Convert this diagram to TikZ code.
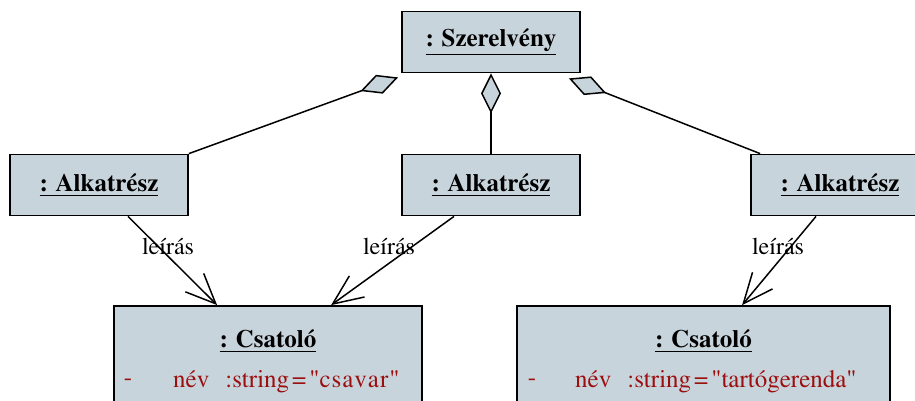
\documentclass[tikz,border=0pt]{standalone}
\usepackage[T1]{fontenc}
\usepackage{mathptmx}
\usetikzlibrary{arrows.meta,backgrounds}
\definecolor{boxfill}{RGB}{200,212,220}
\definecolor{attrred}{RGB}{155,15,15}
\tikzset{
    obj/.style={draw,line width=1.8pt,fill=boxfill,inner sep=0pt,
        minimum width=178pt,minimum height=61pt,font=\fontsize{25}{29}\selectfont\bfseries},
    cls/.style={draw,line width=1.8pt,fill=boxfill,inner sep=0pt,minimum height=130pt},
    aggr/.style={line width=1.5pt,-{Diamond[length=40pt,width=20pt,fill=boxfill,line width=1.5pt]}},
    link/.style={line width=1.5pt,-{Straight Barb[length=30pt,width=26pt,line width=1.5pt]}},
    lbl/.style={font=\fontsize{24}{28}\selectfont,inner sep=0pt},
    attr/.style={font=\fontsize{25}{29}\selectfont,text=attrred,inner sep=0pt},
}
\begin{document}
\begin{tikzpicture}[x=1pt,y=-1pt]
    \useasboundingbox (0,0) rectangle (915,400);
    %% whole and parts
    \node[obj] (sz) at (491,42) {\underline{: Szerelv\'eny}};
    \node[obj] (alk1) at (99,185) {\underline{: Alkatr\'esz}};
    \node[obj] (alk2) at (491,185) {\underline{: Alkatr\'esz}};
    \node[obj] (alk3) at (840,185) {\underline{: Alkatr\'esz}};
    %% connectors
    \node[cls,minimum width=308pt] (cs1) at (268,371) {};
    \node[lbl,font=\fontsize{25}{29}\selectfont\bfseries] (cs1t) at (268,341) {\underline{: Csatol\'o}};
    \node[attr] (cs1m) at (128,382) {-};
    \node[attr,anchor=west] (cs1a) at (173,382) {n\'ev\hspace{16pt}:string\hspace{3pt}=\hspace{3pt}\textquotedbl c\hspace{1pt}s\hspace{1pt}a\hspace{1pt}v\hspace{1pt}a\hspace{1pt}r\hspace{1pt}\textquotedbl};
    \node[cls,minimum width=373pt] (cs2) at (703.5,371) {};
    \node[lbl,font=\fontsize{25}{29}\selectfont\bfseries] (cs2t) at (703.5,341) {\underline{: Csatol\'o}};
    \node[attr] (cs2m) at (532,382) {-};
    \node[attr,anchor=west] (cs2a) at (575,382) {n\'ev\hspace{16pt}:string\hspace{3pt}=\hspace{3pt}\textquotedbl tart\'ogerenda\textquotedbl};
    %% aggregation
    \begin{scope}[on background layer]
        \draw[aggr] (alk1.north east) -- ([xshift=-3pt,yshift=-4pt]sz.south west);
        \draw[aggr] (alk2.north) -- (sz.south);
        \draw[aggr] ([xshift=10pt]alk3.north west) -- ([xshift=-12pt,yshift=-5pt]sz.south east);
    \end{scope}
    %% descriptions
    \draw[link] ([xshift=29pt]alk1.south) -- ([xshift=104pt]cs1.north west);
    \draw[link] ([xshift=-37pt]alk2.south) -- ([xshift=218pt]cs1.north west);
    \draw[link] ([xshift=-24pt]alk3.south) -- ([xshift=226pt]cs2.north west);
    \node[lbl] (l1) at (168,246) {le\'{\i}r\'as};
    \node[lbl] (l2) at (389,246) {le\'{\i}r\'as};
    \node[lbl] (l3) at (778,246) {le\'{\i}r\'as};
\end{tikzpicture}
\end{document}
